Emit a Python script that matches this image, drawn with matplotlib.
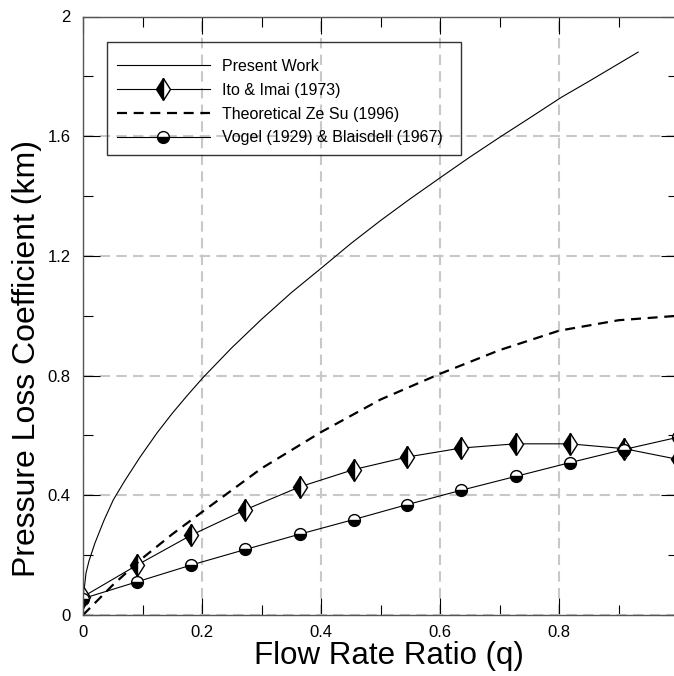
import numpy as np
import matplotlib.pyplot as plt
from matplotlib.patches import Rectangle

plt.rcParams["font.family"] = ["Liberation Sans", "DejaVu Sans"]

# Present Work
present_q = [0.0, 0.005, 0.01, 0.02, 0.035, 0.051, 0.07, 0.096, 0.125, 0.15,
             0.175, 0.202, 0.25, 0.3, 0.35, 0.401, 0.45, 0.5, 0.55, 0.603,
             0.65, 0.7, 0.75, 0.804, 0.85, 0.9, 0.933]
present_k = [0.05, 0.14, 0.18, 0.24, 0.315, 0.385, 0.448, 0.528, 0.61, 0.674,
             0.733, 0.794, 0.893, 0.988, 1.077, 1.16, 1.241, 1.318, 1.391, 1.465,
             1.53, 1.596, 1.66, 1.73, 1.783, 1.842, 1.881]

# Ito & Imai (1973)
ito_q = [0.0, 0.091, 0.182, 0.273, 0.364, 0.455, 0.545, 0.636, 0.727, 0.818, 0.909, 1.0]
ito_k = [0.061, 0.167, 0.267, 0.352, 0.428, 0.486, 0.528, 0.558, 0.572, 0.572, 0.556, 0.52]

# Theoretical Ze Su (1996)
theo_q = [0.0, 0.05, 0.1, 0.15, 0.2, 0.3, 0.4, 0.5, 0.6, 0.7, 0.8, 0.9, 1.0]
theo_k = [0.0, 0.1, 0.19, 0.27, 0.344, 0.49, 0.611, 0.72, 0.806, 0.885, 0.95, 0.985, 1.0]

# Vogel (1929) & Blaisdell (1967)
vogel_q = ito_q
vogel_k = [0.055, 0.111, 0.167, 0.219, 0.27, 0.319, 0.369, 0.417, 0.463, 0.509, 0.553, 0.594]

W, H = 674, 676
fig = plt.figure(figsize=(W / 100, H / 100), dpi=100)
ax = fig.add_axes([83 / W, 61 / H, 595 / W, 598.5 / H])

ax.plot(present_q, present_k, color="black", lw=0.8, label="Present Work")
ax.plot(ito_q, ito_k, color="black", lw=0.8, marker="d", ms=11.5,
        mew=1.0, mec="black", mfc="black", fillstyle="left",
        markerfacecoloralt="white", label="Ito & Imai (1973)")
ax.plot(theo_q, theo_k, color="black", lw=1.6, dashes=(4.5, 3),
        label="Theoretical Ze Su (1996)")
ax.plot(vogel_q, vogel_k, color="black", lw=0.8, marker="o", ms=8.5,
        mew=1.0, mec="black", mfc="black", fillstyle="bottom",
        markerfacecoloralt="white", label="Vogel (1929) & Blaisdell (1967)")

ax.set_xlim(0, 1.0)
ax.set_ylim(0, 2.0)
ax.set_xticks(np.arange(0, 1.01, 0.2))
ax.set_xticks(np.arange(0.1, 1.0, 0.2), minor=True)
ax.set_yticks(np.arange(0, 2.01, 0.4))
ax.set_yticks(np.arange(0.2, 2.0, 0.4), minor=True)
# the 1.0 label falls outside the cropped picture
ax.set_xticklabels(["0", "0.2", "0.4", "0.6", "0.8", ""])
ax.set_yticklabels(["0", "0.4", "0.8", "1.2", "1.6", "2"])

ax.tick_params(which="both", direction="in", top=True, right=True,
               labelsize=12, width=0.8, color="black")
ax.tick_params(which="major", length=12)
ax.tick_params(which="minor", length=7)
ax.tick_params(axis="x", which="major", pad=7)
ax.tick_params(axis="y", which="major", pad=9)

ax.set_axisbelow(True)
ax.grid(True, which="major", color="#c8c8c8", lw=1.5, linestyle=(0, (5, 3)))

for side in ax.spines.values():
    side.set_color("#555555")
    side.set_linewidth(1.0)

ax.set_xlabel("Flow Rate Ratio (q)", fontsize=22.5)
ax.set_ylabel("Pressure Loss Coefficient (km)", fontsize=23)
ax.xaxis.set_label_coords(0.514, -0.043)
ax.yaxis.set_label_coords(-0.069, 0.428)

# legend entries without frame, box drawn separately to match the original
leg = ax.legend(loc="upper left", bbox_to_anchor=(117 / W, (H - 59) / H),
                bbox_transform=fig.transFigure, fontsize=11.5, frameon=False,
                handlelength=5.8, handletextpad=0.75, labelspacing=0.55,
                borderpad=0, numpoints=1, borderaxespad=0)
fig.add_artist(Rectangle((107 / W, (H - 155) / H), (461 - 107) / W, (155 - 42) / H,
                         transform=fig.transFigure, fill=False,
                         edgecolor="#333333", lw=1.0))

fig.savefig("out.png", dpi=100)
